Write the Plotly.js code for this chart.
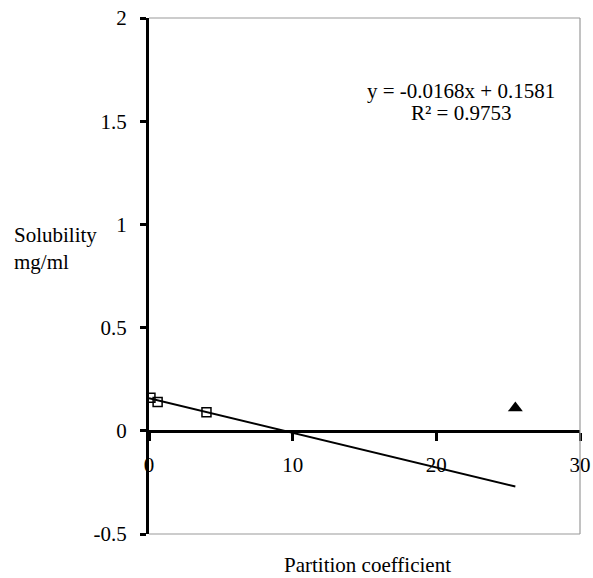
<!DOCTYPE html>
<html>
<head>
<meta charset="utf-8">
<script src="https://cdn.plot.ly/plotly-3.0.1.min.js"></script>
<style>html,body{margin:0;padding:0;background:#fff;}#chart{width:593px;height:578px;}</style>
</head>
<body>
<div id="chart"></div>
<script>
// Data
const squareX = [0.1, 0.6, 4.0];
const squareY = [0.16, 0.14, 0.09];
const triangleX = [25.5];
const triangleY = [0.11];
const fitSlope = -0.0168;
const fitIntercept = 0.1581;
const fitR2 = 0.9753;
const trendX = [0, 25.5];
const trendY = trendX.map(x => fitSlope * x + fitIntercept);
const xTicks = [0, 10, 20, 30];
const yTicks = [-0.5, 0, 0.5, 1, 1.5, 2];

const FONT = '"Liberation Serif", "DejaVu Serif", serif';

const traces = [
  {x: trendX, y: trendY, mode: 'lines', line: {color: '#000', width: 2}, hoverinfo: 'skip', showlegend: false},
  {x: squareX, y: squareY, mode: 'markers', marker: {symbol: 'square-open', size: 9, color: '#000', line: {width: 1.5, color: '#000'}}, showlegend: false},
  {x: triangleX, y: triangleY, mode: 'markers', marker: {symbol: 'triangle-up', size: 13, color: '#000'}, showlegend: false}
];

const layout = {
  width: 593, height: 578,
  margin: {l: 149, r: 13, t: 18, b: 44},
  paper_bgcolor: '#fff', plot_bgcolor: '#fff',
  font: {family: FONT, size: 21, color: '#000'},
  showlegend: false,
  xaxis: {
    range: [0, 30], tickvals: xTicks, ticktext: xTicks.map(String),
    showgrid: false, zeroline: false, showline: true, linecolor: '#000', linewidth: 3,
    ticks: 'outside', ticklen: 8, tickwidth: 3, tickcolor: '#000',
    anchor: 'free', position: 0.2, ticklabelstandoff: 6,
    tickfont: {family: FONT, size: 21, color: '#000'}
  },
  yaxis: {
    range: [-0.5, 2], tickvals: yTicks, ticktext: yTicks.map(String),
    showgrid: false, zeroline: false, showline: true, linecolor: '#000', linewidth: 3,
    ticks: 'outside', ticklen: 6, tickwidth: 3, tickcolor: '#000',
    ticklabelstandoff: 9,
    tickfont: {family: FONT, size: 21, color: '#000'}
  },
  shapes: [
    {type: 'line', xref: 'paper', yref: 'paper', x0: 0, x1: 1, y0: 1, y1: 1, line: {color: '#999', width: 1.2}},
    {type: 'line', xref: 'paper', yref: 'paper', x0: 1, x1: 1, y0: 0, y1: 1, line: {color: '#999', width: 1.2}},
    {type: 'line', xref: 'paper', yref: 'paper', x0: 0, x1: 1, y0: 0, y1: 0, line: {color: '#999', width: 1.2}}
  ],
  annotations: [
    {xref: 'paper', yref: 'paper', x: 0.724, y: 0.8585, xanchor: 'center', yanchor: 'middle', showarrow: false,
     text: 'y = ' + fitSlope.toFixed(4) + 'x + ' + fitIntercept.toFixed(4), font: {family: FONT, size: 21, color: '#000'}},
    {xref: 'paper', yref: 'paper', x: 0.724, y: 0.816, xanchor: 'center', yanchor: 'middle', showarrow: false,
     text: 'R\u00B2 = ' + fitR2.toFixed(4), font: {family: FONT, size: 21, color: '#000'}},
    {xref: 'paper', yref: 'paper', x: -0.318, y: 0.553, xanchor: 'left', yanchor: 'middle', align: 'left', showarrow: false,
     text: 'Solubility<br>mg/ml', font: {family: FONT, size: 21, color: '#000'}},
    {xref: 'paper', yref: 'paper', x: 0.508, y: -0.060, xanchor: 'center', yanchor: 'middle', showarrow: false,
     text: 'Partition coefficient', font: {family: FONT, size: 21, color: '#000'}}
  ]
};

Plotly.newPlot('chart', traces, layout, {displayModeBar: false, staticPlot: true});
</script>
</body>
</html>
